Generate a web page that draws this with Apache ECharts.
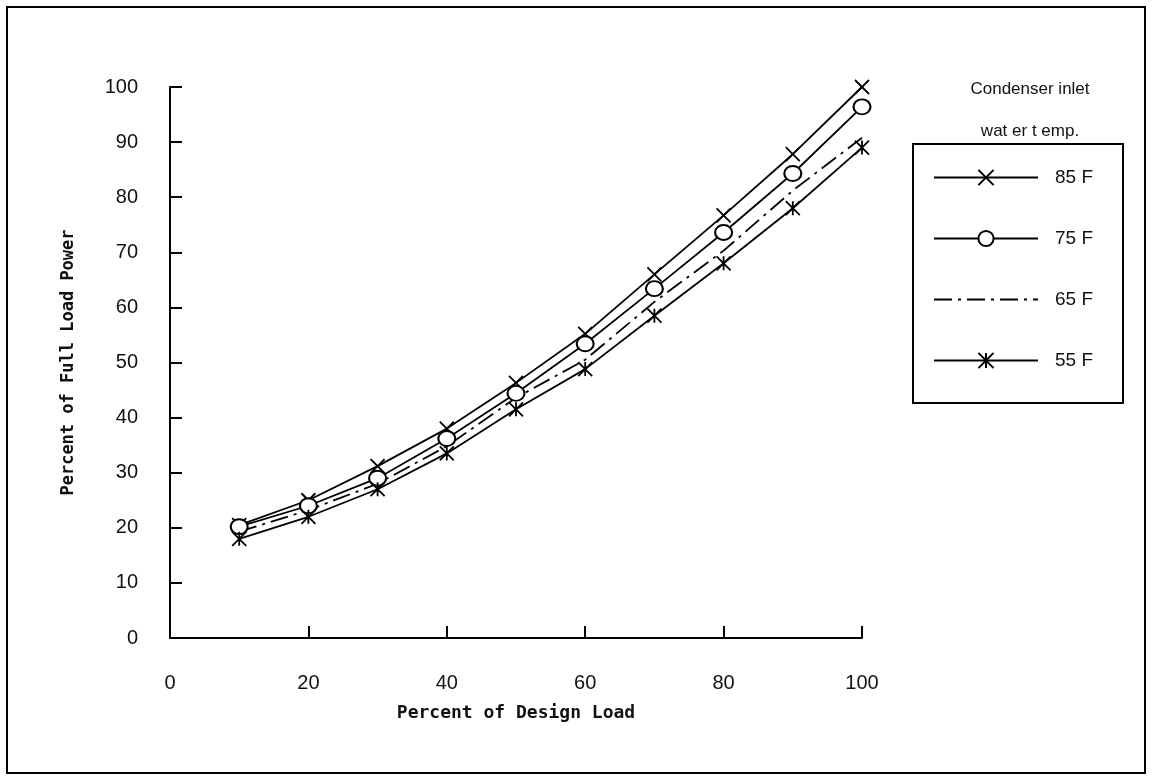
<!DOCTYPE html>
<html>
<head>
<meta charset="utf-8">
<script src="https://cdn.jsdelivr.net/npm/echarts@6/dist/echarts.min.js"></script>
<style>
  html, body { margin: 0; padding: 0; background: #fff; }
  #chart { width: 1152px; height: 780px; }
</style>
</head>
<body>
<div id="chart"></div>
<script>
// percent of design load
var loads = [10, 20, 30, 40, 50, 60, 70, 80, 90, 100];
// percent of full load power, per condenser inlet water temp
var temp85 = [20.5, 25, 31.2, 38, 46.3, 55.2, 66, 76.7, 87.8, 100];
var temp75 = [20.2, 24, 29, 36.2, 44.4, 53.4, 63.4, 73.6, 84.3, 96.4];
var temp65 = [19.3, 23.2, 28, 34.8, 43.6, 50.5, 61, 70.3, 81.2, 90.8];
var temp55 = [18, 22, 27, 33.5, 41.5, 48.8, 58.5, 68, 78, 89];
var names = ["85 F", "75 F", "65 F", "55 F"];

var xMark = "path://M0,0L20,20M20,0L0,20";
var starMark = "path://M0,0L20,20M20,0L0,20M10,0L10,20";

function pairs(ys) {
  var out = [];
  for (var i = 0; i < loads.length; i++) {
    out.push([loads[i], ys[i]]);
  }
  return out;
}

var labelFont = { color: "#111", fontSize: 20, fontFamily: "Liberation Sans" };

var myChart = echarts.init(document.getElementById("chart"));
myChart.setOption({
  animation: false,
  backgroundColor: "#fff",
  title: {
    text: "Condenser inlet\nwat er t emp.",
    left: 1025,
    top: 63,
    textAlign: "center",
    textStyle: {
      color: "#111",
      fontSize: 17,
      fontWeight: "normal",
      fontFamily: "Liberation Sans",
      lineHeight: 42
    }
  },
  legend: {
    orient: "vertical",
    left: 913,
    top: 144,
    data: [
      names[0],
      names[1],
      { name: names[2], itemStyle: { color: "transparent", borderColor: "transparent" } },
      names[3]
    ],
    itemWidth: 104,
    itemHeight: 19,
    itemGap: 42,
    padding: [24, 30, 33, 20],
    borderColor: "#000",
    borderWidth: 2,
    textStyle: { color: "#111", fontSize: 19, fontFamily: "Liberation Sans", padding: [0, 0, 0, 12] }
  },
  grid: { left: 170, right: 290, top: 87, bottom: 142 },
  xAxis: {
    type: "value",
    min: 0,
    max: 100,
    interval: 20,
    name: "Percent of Design Load",
    nameLocation: "middle",
    nameGap: 66,
    nameTextStyle: { color: "#111", fontSize: 18, fontWeight: "bold", fontFamily: "DejaVu Sans Mono" },
    axisLine: { show: true, lineStyle: { color: "#000", width: 2 } },
    axisTick: { show: true, inside: true, length: 12, lineStyle: { color: "#000", width: 2 } },
    axisLabel: Object.assign({ margin: 35 }, labelFont),
    splitLine: { show: false }
  },
  yAxis: {
    type: "value",
    min: 0,
    max: 100,
    interval: 10,
    name: "Percent of Full Load Power",
    nameLocation: "middle",
    nameRotate: 90,
    nameGap: 93,
    nameTextStyle: { color: "#111", fontSize: 17, fontWeight: "bold", fontFamily: "DejaVu Sans Mono" },
    axisLine: { show: true, lineStyle: { color: "#000", width: 2 } },
    axisTick: { show: true, inside: true, length: 12, lineStyle: { color: "#000", width: 2 } },
    axisLabel: Object.assign({ margin: 32 }, labelFont),
    splitLine: { show: false }
  },
  graphic: [
    {
      type: "rect",
      shape: { x: 7, y: 7, width: 1138, height: 766 },
      style: { fill: "none", stroke: "#000", lineWidth: 2 },
      silent: true
    }
  ],
  series: [
    {
      name: names[0],
      type: "line",
      data: pairs(temp85),
      symbol: xMark,
      symbolSize: 14,
      color: "#000",
      lineStyle: { color: "#000", width: 1.8 },
      itemStyle: { color: "#000", borderColor: "#000", borderWidth: 1.8 }
    },
    {
      name: names[1],
      type: "line",
      data: pairs(temp75),
      symbol: "emptyCircle",
      symbolSize: [17, 15],
      color: "#000",
      lineStyle: { color: "#000", width: 1.8 },
      itemStyle: { color: "#000", borderColor: "#000", borderWidth: 1.8 }
    },
    {
      name: names[2],
      type: "line",
      data: pairs(temp65),
      symbol: "none",
      color: "#000",
      lineStyle: { color: "#000", width: 1.8, type: [18, 6, 3, 6] }
    },
    {
      name: names[3],
      type: "line",
      data: pairs(temp55),
      symbol: starMark,
      symbolSize: 14,
      color: "#000",
      lineStyle: { color: "#000", width: 1.8 },
      itemStyle: { color: "#000", borderColor: "#000", borderWidth: 1.8 }
    }
  ]
});
</script>
</body>
</html>
